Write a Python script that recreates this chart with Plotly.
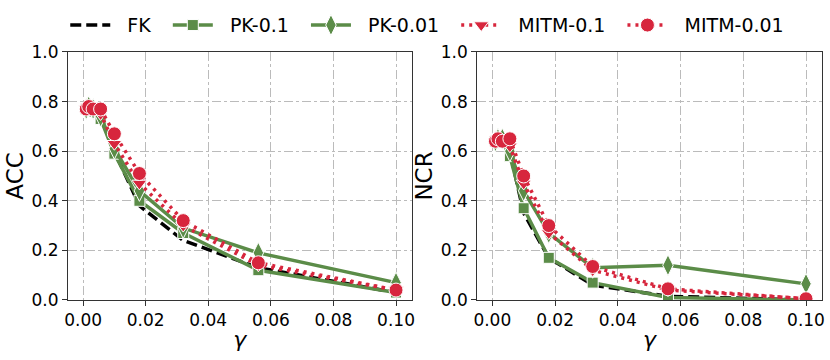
import plotly.graph_objects as go

gamma = [0.001, 0.0018, 0.0032, 0.0056, 0.01, 0.018, 0.032, 0.056, 0.1]

series_names = ["FK", "PK-0.1", "PK-0.01", "MITM-0.1", "MITM-0.01"]

acc_fk = [0.77, 0.78, 0.77, 0.74, 0.60, 0.38, 0.24, 0.13, 0.03]
acc_pk01 = [0.77, 0.77, 0.76, 0.73, 0.59, 0.40, 0.27, 0.12, 0.03]
acc_pk001 = [0.77, 0.78, 0.77, 0.74, 0.61, 0.44, 0.29, 0.19, 0.07]
acc_mitm01 = [0.77, 0.78, 0.77, 0.75, 0.63, 0.47, 0.30, 0.14, 0.04]
acc_mitm001 = [0.77, 0.78, 0.77, 0.77, 0.67, 0.51, 0.32, 0.15, 0.04]

ncr_fk = [0.64, 0.65, 0.66, 0.60, 0.35, 0.17, 0.06, 0.015, 0.0]
ncr_pk01 = [0.64, 0.65, 0.64, 0.58, 0.37, 0.17, 0.07, 0.01, 0.0]
ncr_pk001 = [0.64, 0.65, 0.65, 0.60, 0.44, 0.27, 0.13, 0.14, 0.065]
ncr_mitm01 = [0.64, 0.65, 0.64, 0.62, 0.47, 0.27, 0.12, 0.04, 0.005]
ncr_mitm001 = [0.64, 0.65, 0.64, 0.65, 0.50, 0.30, 0.135, 0.045, 0.005]

x_ticks = [0.0, 0.02, 0.04, 0.06, 0.08, 0.10]
x_ticklabels = ["0.00", "0.02", "0.04", "0.06", "0.08", "0.10"]
y_ticks = [0.0, 0.2, 0.4, 0.6, 0.8, 1.0]
y_ticklabels = ["0.0", "0.2", "0.4", "0.6", "0.8", "1.0"]

GREEN = "#5b8c48"
RED = "#d7263d"
BLACK = "#000000"

styles = [
    dict(color=BLACK, dash="11px,5px", symbol=None, size=0),
    dict(color=GREEN, dash="solid", symbol="square", size=11),
    dict(color=GREEN, dash="solid", symbol="diamond-tall", size=15),
    dict(color=RED, dash="3px,5px", symbol="triangle-down", size=13),
    dict(color=RED, dash="3px,5px", symbol="circle", size=14),
]

acc_data = [acc_fk, acc_pk01, acc_pk001, acc_mitm01, acc_mitm001]
ncr_data = [ncr_fk, ncr_pk01, ncr_pk001, ncr_mitm01, ncr_mitm001]

NB = "\u00a0"
fig = go.Figure()
for panel, data in enumerate([acc_data, ncr_data]):
    xa = "x" if panel == 0 else "x2"
    ya = "y" if panel == 0 else "y2"
    for name, vals, st in zip(series_names, data, styles):
        mode = "lines" if st["symbol"] is None else "lines+markers"
        marker = dict(color=st["color"], size=st["size"], symbol=st["symbol"] or "circle",
                      line=dict(color="white", width=1))
        fig.add_trace(go.Scatter(
            x=gamma, y=vals, name=NB * 2 + name + NB * 2, mode=mode,
            line=dict(color=st["color"], width=3.5, dash=st["dash"]),
            marker=marker, xaxis=xa, yaxis=ya,
            showlegend=(panel == 0), legendgroup=name,
        ))

axis_common = dict(
    showline=True, linecolor="#333333", linewidth=1.2, mirror=True,
    showgrid=True, gridcolor="#bbbbbb", griddash="dashdot", gridwidth=1,
    ticks="outside", ticklen=5, tickcolor="#333333",
    tickfont=dict(size=17, color="black"), zeroline=False,
)

fig.update_layout(
    width=830, height=360,
    margin=dict(l=0, r=0, t=0, b=0, autoexpand=False),
    paper_bgcolor="white", plot_bgcolor="white",
    font=dict(family="DejaVu Sans", color="black"),
    xaxis=dict(domain=[0.082, 0.496], range=[-0.0048, 0.105], tickvals=x_ticks,
               ticktext=x_ticklabels, anchor="y",
               title=dict(text="<i>γ</i>", font=dict(size=22), standoff=2), **axis_common),
    yaxis=dict(domain=[0.1667, 0.8556], range=[0, 1.0], tickvals=y_ticks,
               ticktext=y_ticklabels, anchor="x",
               title=dict(text="ACC", font=dict(size=23), standoff=1), **axis_common),
    xaxis2=dict(domain=[0.575, 0.990], range=[-0.0048, 0.105], tickvals=x_ticks,
                ticktext=x_ticklabels, anchor="y2",
                title=dict(text="<i>γ</i>", font=dict(size=22), standoff=2), **axis_common),
    yaxis2=dict(domain=[0.1667, 0.8556], range=[0, 1.0], tickvals=y_ticks,
                ticktext=y_ticklabels, anchor="x2",
                title=dict(text="NCR", font=dict(size=23), standoff=1), **axis_common),
    legend=dict(orientation="h", x=0.522, xanchor="center", y=0.93, yanchor="middle",
                font=dict(size=19), bgcolor="rgba(0,0,0,0)", itemwidth=40,
                tracegroupgap=0),
)

fig.write_html("out.html", config={"displayModeBar": False},
               post_script="document.body.style.margin='0';")
